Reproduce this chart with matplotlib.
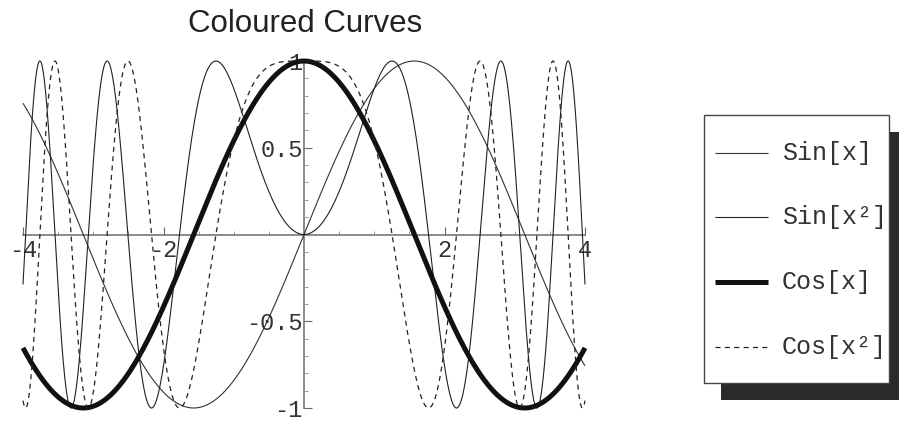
import numpy as np
import matplotlib.pyplot as plt
from matplotlib.patches import Rectangle
from matplotlib.lines import Line2D
from matplotlib.ticker import MultipleLocator

W, H = 899, 421

# curves, one per legend entry
labels = ["Sin[x]", "Sin[x²]", "Cos[x]", "Cos[x²]"]
x = np.linspace(-4, 4, 4001)
curves = [np.sin(x), np.sin(x ** 2), np.cos(x), np.cos(x ** 2)]
widths = [0.8, 0.8, 3.6, 0.9]
styles = ["-", "-", "-", (0, (4, 3.5))]
colors = ["#333333", "#222222", "#111111", "#222222"]

xticks = [-4, -2, 2, 4]
yticks = [-1, -0.5, 0.5, 1]
ytick_labels = ["-1", "-0.5", "0.5", "1"]

fig = plt.figure(figsize=(W / 100, H / 100), dpi=100)


def px(l, t, r, b):
    # pixel box -> figure fraction
    return [l / W, 1 - b / H, (r - l) / W, (b - t) / H]


ax = fig.add_axes(px(23, 61, 585, 408))
ax.set_xlim(-4, 4)
ax.set_ylim(-1, 1)
ax.patch.set_visible(False)

for y, lw, ls, c in zip(curves, widths, styles, colors):
    ax.plot(x, y, color=c, lw=lw, linestyle=ls, clip_on=False,
            solid_capstyle="butt")

# axes through the origin
ax.spines[["top", "right"]].set_visible(False)
ax.spines["left"].set_position("zero")
ax.spines["bottom"].set_position("zero")
for s in ["left", "bottom"]:
    ax.spines[s].set_color("#777777")
    ax.spines[s].set_linewidth(1.2)
    ax.spines[s].set_zorder(0)

ax.set_xticks(xticks)
ax.set_xticklabels([str(t) for t in xticks])
ax.set_yticks(yticks)
ax.set_yticklabels(ytick_labels)
ax.xaxis.set_minor_locator(MultipleLocator(0.5))
ax.yaxis.set_minor_locator(MultipleLocator(0.1))
ax.tick_params(which="major", direction="in", length=6, width=0.8,
               color="#666666", labelsize=17, pad=3)
ax.tick_params(which="minor", direction="in", length=3, width=0.6,
               color="#888888")
ax.tick_params(axis="y", pad=1)
for lab in ax.get_xticklabels() + ax.get_yticklabels():
    lab.set_fontfamily("Liberation Mono")
    lab.set_color("#333333")

fig.text(305 / W, 1 - 24 / H, "Coloured Curves", ha="center", va="center",
         fontsize=22.5, family="Liberation Sans", color="#222222")

# legend box with drop shadow, laid out in pixel units
lax = fig.add_axes([0, 0, 1, 1])
lax.set_xlim(0, W)
lax.set_ylim(H, 0)
lax.axis("off")
lax.add_patch(Rectangle((721, 132), 190, 268, facecolor="#2a2a2a",
                        edgecolor="none"))
lax.add_patch(Rectangle((704, 115), 185, 268, facecolor="white",
                        edgecolor="#444444", lw=1.0))
rows = [153, 217, 282, 347]
for yr, lab, lw, ls, c in zip(rows, labels, widths, styles, colors):
    lax.add_line(Line2D([715, 768], [yr, yr], color=c, lw=lw, linestyle=ls,
                        solid_capstyle="butt"))
    lax.text(782, yr, lab, ha="left", va="center", fontsize=18,
             family="Liberation Mono", color="#333333")

fig.savefig("out.png", dpi=100)
